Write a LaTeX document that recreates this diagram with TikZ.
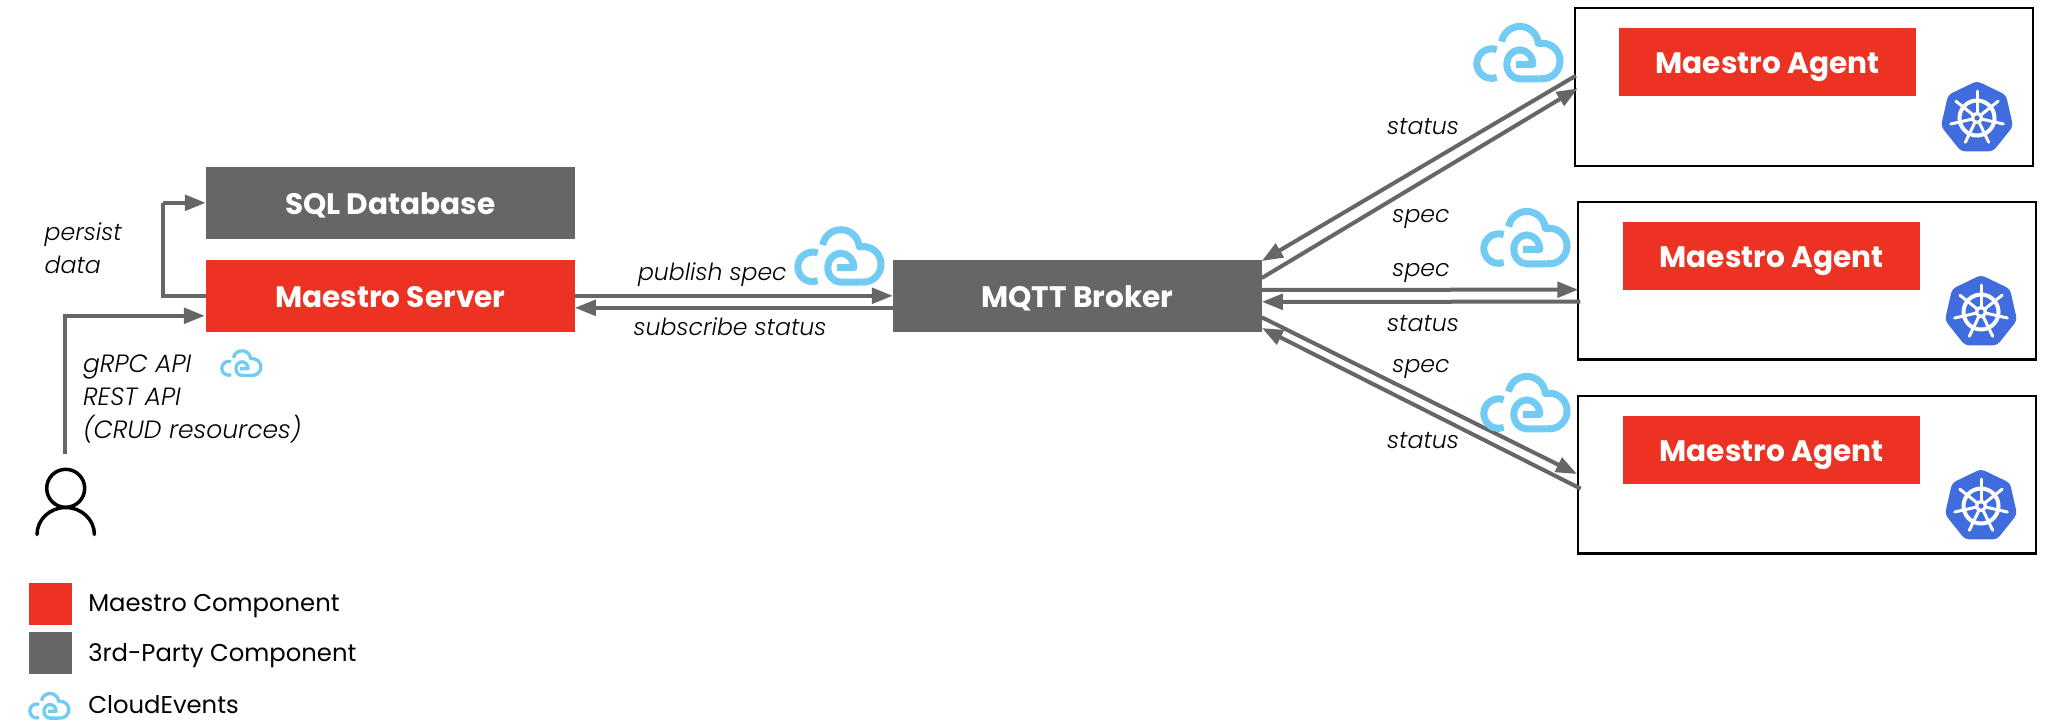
\documentclass[tikz,border=0pt]{standalone}
\usepackage{fontspec}
\setmainfont{Poppins}
\newfontfamily\boldf{Poppins Bold}
\newfontfamily\lightf{Poppins Light}[ItalicFont={Poppins Light Italic}]
\newfontfamily\regf{Poppins}
\usetikzlibrary{arrows.meta,calc}
\definecolor{mred}{HTML}{EC3323}
\definecolor{mgray}{HTML}{666666}
\definecolor{ceblue}{HTML}{72CBF2}
\definecolor{kblue}{HTML}{416CDD}
\tikzset{
  box/.style={inner sep=0pt,outer sep=0pt,text=white,text height=23pt,text depth=0pt,font=\boldf\fontsize{29.6}{34}\selectfont},
  redbox/.style={box,fill=mred},
  graybox/.style={box,fill=mgray},
  agentframe/.style={draw=black,line width=2.3pt,fill=white,inner sep=0pt,outer sep=0pt,minimum width=458pt,minimum height=157.5pt},
  conn/.style={draw=mgray,line width=4pt,-{Triangle[length=21pt,width=15.5pt]}},
  connp/.style={draw=mgray,line width=4pt},
  lab/.style={inner sep=0pt,outer sep=0pt,font=\lightf\itshape\fontsize{23.6}{32.9}\selectfont,text=black},
  apilab/.style={lab,font=\lightf\itshape\fontsize{25}{32.9}\selectfont},
  leg/.style={inner sep=0pt,outer sep=0pt,font=\regf\fontsize{24.3}{30}\selectfont,text=black,anchor=base west},
  legsq/.style={inner sep=0pt,outer sep=0pt,minimum width=43pt,minimum height=42pt}
}
\newcommand{\CEIcon}[3]{%
  \begin{scope}[shift={(#1,#2)},scale=#3,x=1pt,y=-1pt,draw=ceblue,line width=#3*7pt,line cap=butt,line join=round]
    \draw (23.7,27) arc[start angle=-70,end angle=-290,radius=14.8];
    \draw (28.6,19) arc[start angle=-170,end angle=-5,radius=18.5]
          -- (66.2,20.8) arc[start angle=-100,end angle=100,radius=17.8];
    \draw (43,41.7) -- (59.8,41.7) arc[start angle=0,end angle=-180,x radius=13,y radius=14.5]
          arc[start angle=-180,end angle=-270,x radius=13,y radius=14.5] -- (66,56.2);
  \end{scope}}
\newcommand{\KubeIcon}[2]{%
  \begin{scope}[shift={(#1,#2)},x=1pt,y=-1pt]
    \fill[kblue,rounded corners=4pt] (-90:37) -- (-38.57:37) -- (12.86:37) -- (64.29:37) -- (115.71:37) -- (167.14:37) -- (218.57:37) -- cycle;
    \draw[white,line width=4pt] (0,0) circle[radius=17.5];
    \foreach \a in {-90,-38.57,12.86,64.29,115.71,167.14,218.57}{
      \draw[white,line width=3pt,line cap=round] (0,0) -- (\a:27);
    }
    \fill[white] (0,0) circle[radius=6];
    \fill[kblue] (0,0) circle[radius=2.6];
  \end{scope}}
\begin{document}
\begin{tikzpicture}[x=1pt,y=-1pt]
\useasboundingbox (0,0) rectangle (2052,724);
% main boxes
\node[graybox,minimum width=369pt,minimum height=72pt] (sql) at (390.3,202.8) {SQL Database};
\node[redbox,minimum width=369pt,minimum height=72pt] (server) at (390.3,295.8) {Maestro Server};
\node[graybox,minimum width=369pt,minimum height=72pt] (broker) at (1077.3,295.8) {MQTT Broker};
% agents
\node[agentframe] (frame1) at (1803.8,87) {};
\node[agentframe] (frame2) at (1807.3,280.7) {};
\node[agentframe] (frame3) at (1807,474.8) {};
\node[redbox,minimum width=297pt,minimum height=68.5pt] (agent1) at (1767.5,62.2) {Maestro Agent};
\node[redbox,minimum width=297pt,minimum height=68.5pt] (agent2) at (1771.5,256) {Maestro Agent};
\node[redbox,minimum width=297pt,minimum height=68.5pt] (agent3) at (1771.5,450.2) {Maestro Agent};
\KubeIcon{1977}{118}
\KubeIcon{1981}{312}
\KubeIcon{1981}{506}
% person
\node[circle,draw=black,line width=3.5pt,minimum size=38pt,inner sep=0pt] (person) at (65.7,488.3) {};
\draw[black,line width=3.5pt,line cap=round] (37,534.5) arc[start angle=180,end angle=360,x radius=28.7,y radius=27];
% connectors
\coordinate (userstart) at (64.5,454);
\draw[connp] (server.west) -| ($(sql.west)+(-43,0)$) coordinate (bend);
\draw[conn] (bend) -- (sql.west);
\draw[conn] (userstart) |- ([yshift=-20pt,xshift=-1pt]server.west);
\draw[conn] (server.east) -- (broker.west);
\draw[conn] ([yshift=-12pt]broker.west) -- ([yshift=-12pt]server.east);
\draw[conn] ([yshift=11.3pt,xshift=1pt]frame1.west) -- ([yshift=34.8pt]broker.east);
\draw[conn] ([yshift=17.8pt]broker.east) -- ([yshift=-1.3pt,xshift=3pt]frame1.west);
\draw[conn] ([yshift=6pt]broker.east) -- ([yshift=-9pt]frame2.west);
\draw[conn] ([yshift=-21pt,xshift=2pt]frame2.west) -- ([yshift=-6pt]broker.east);
\draw[conn] ([yshift=-21.5pt]broker.east) -- ([yshift=0.8pt,xshift=-1pt]frame3.west);
\draw[conn] ([yshift=-13.9pt,xshift=2.7pt]frame3.west) -- ([yshift=-32.2pt]broker.east);
% icons
\CEIcon{794}{226}{1}
\CEIcon{1473}{22.7}{1}
\CEIcon{1480}{207.7}{1}
\CEIcon{1480}{372.7}{1}
\CEIcon{220}{349}{0.47}
\CEIcon{28}{691.7}{0.47}
% labels
\node[lab,anchor=base west,align=left] (persist) at (44.7,273) {persist\\data};
\node[apilab,anchor=base west,align=left] (api) at (83,438.7) {gRPC API\\REST API\\(CRUD resources)};
\node[lab,anchor=base west] (pub) at (638,280) {publish spec};
\node[lab,anchor=base west] (sub) at (633.7,335) {subscribe status};
\node[lab] (st1) at (1423,126.7) {status};
\node[lab] (sp1) at (1421,219) {spec};
\node[lab] (sp2) at (1421,273) {spec};
\node[lab] (st2) at (1423,324) {status};
\node[lab] (sp3) at (1421,369) {spec};
\node[lab] (st3) at (1423,441) {status};
% legend
\node[legsq,fill=mred] (l1) at (50.8,603.5) {};
\node[legsq,fill=mgray] (l2) at (50.8,653.3) {};
\node[leg] (lt1) at (88.3,611.7) {Maestro Component};
\node[leg] (lt2) at (88.3,661.7) {3rd-Party Component};
\node[leg] (lt3) at (88.3,713.3) {CloudEvents};
\end{tikzpicture}
\end{document}
